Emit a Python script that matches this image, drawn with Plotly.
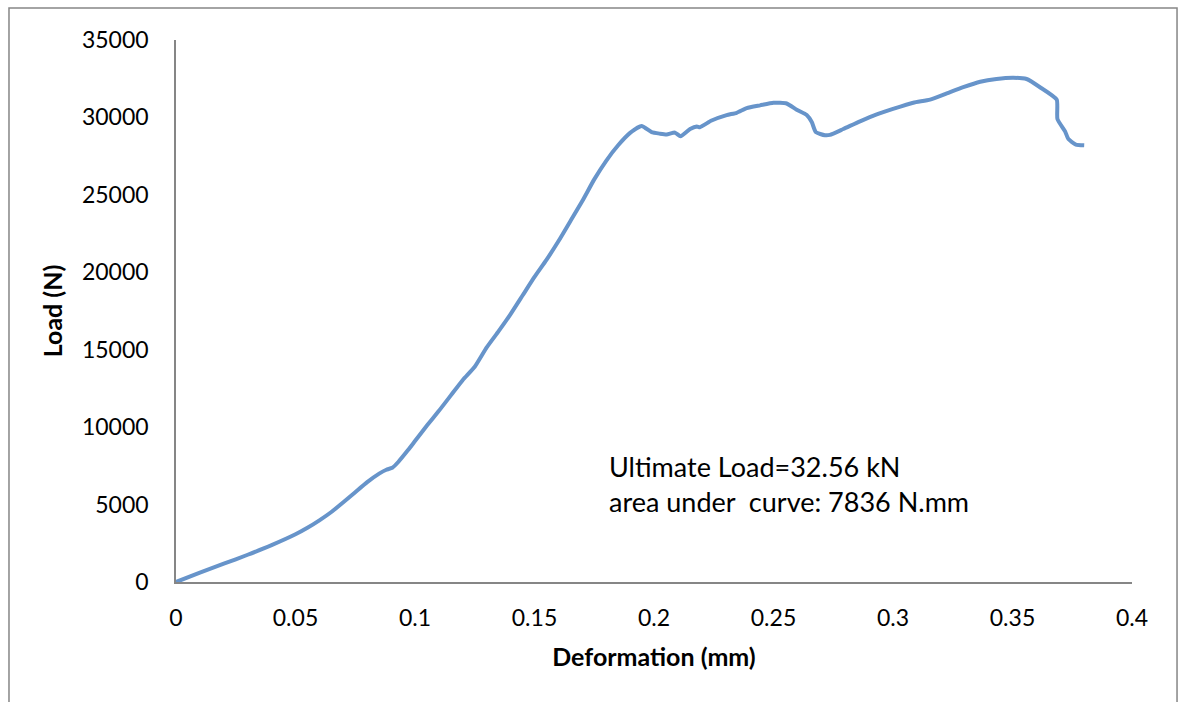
import plotly.graph_objects as go

# Load-deformation record of the specimen
deformation_mm = [
    0, 0.01, 0.02, 0.03, 0.04, 0.05, 0.055, 0.06, 0.065, 0.07, 0.075, 0.08,
    0.085, 0.088, 0.0905, 0.093, 0.097, 0.1, 0.105, 0.11, 0.115, 0.12, 0.125,
    0.13, 0.135, 0.14, 0.145, 0.15, 0.155, 0.16, 0.165, 0.17, 0.175, 0.18,
    0.185, 0.19, 0.1948, 0.199, 0.2025, 0.2053, 0.2088, 0.2111, 0.2151,
    0.2179, 0.2192, 0.2241, 0.2304, 0.2346, 0.2388, 0.2444, 0.25, 0.2555,
    0.2597, 0.2639, 0.266, 0.2677, 0.2715, 0.2736, 0.2792, 0.2862, 0.2932,
    0.3, 0.3085, 0.3155, 0.3225, 0.3294, 0.3365, 0.3433, 0.3503, 0.3559,
    0.3615, 0.3685, 0.3688, 0.372, 0.3734, 0.3765, 0.38,
]
load_n = [
    0, 600, 1180, 1760, 2380, 3080, 3500, 3980, 4520, 5150, 5800, 6450,
    7000, 7250, 7380, 7750, 8500, 9100, 10100, 11050, 12050, 13050, 13900,
    15150, 16200, 17300, 18500, 19700, 20800, 22000, 23300, 24600, 26000,
    27200, 28200, 29000, 29450, 29050, 28950, 28900, 29020, 28780, 29250,
    29420, 29370, 29800, 30150, 30300, 30600, 30780, 30950, 30900,
    30500, 30150, 29700, 29050, 28850, 28870, 29250, 29750, 30200,
    30550, 30950, 31150, 31550, 31950, 32300, 32480, 32560, 32480,
    31950, 31150, 29900, 29100, 28600, 28250, 28200,
]

x_ticks = [0, 0.05, 0.1, 0.15, 0.2, 0.25, 0.3, 0.35, 0.4]
x_tick_text = ["0", "0.05", "0.1", "0.15", "0.2", "0.25", "0.3", "0.35", "0.4"]
y_ticks = [0, 5000, 10000, 15000, 20000, 25000, 30000, 35000]

note_lines = ["Ultimate Load=32.56 kN", "area under  curve: 7836 N.mm"]

FONT = "Lato, Carlito, Calibri, sans-serif"
AXIS_GREY = "#868686"

fig = go.Figure()
fig.add_trace(go.Scatter(
    x=deformation_mm, y=load_n, mode="lines",
    line=dict(color="#6794CA", width=4, shape="spline", smoothing=0.5),
    showlegend=False, hoverinfo="x+y",
))

fig.update_layout(
    width=1184, height=702,
    margin=dict(l=176, r=52, t=40, b=120),
    paper_bgcolor="white", plot_bgcolor="white",
    font=dict(family=FONT, size=23, color="black"),
    xaxis=dict(
        range=[0, 0.4], tickvals=x_ticks, ticktext=x_tick_text,
        showgrid=False, zeroline=False, showline=True,
        linecolor=AXIS_GREY, linewidth=1.5, ticks="",
        ticklabelstandoff=15,
        title=dict(text="<b>Deformation (mm)</b>", font=dict(size=25), standoff=18),
    ),
    yaxis=dict(
        range=[0, 35000], tickvals=y_ticks,
        showgrid=False, zeroline=False, showline=True,
        linecolor=AXIS_GREY, linewidth=1.5, ticks="",
        ticklabelstandoff=21, tickformat="d",
        title=dict(text="<b>Load (N)</b>", font=dict(size=25), standoff=12),
    ),
)

fig.add_annotation(
    x=0.1804, y=6350, xref="x", yref="y",
    text="<br>".join(note_lines), showarrow=False,
    xanchor="left", yanchor="middle", align="left",
    font=dict(family=FONT, size=27, color="black"),
)

# Chart-area frame
fig.add_shape(
    type="rect", xref="paper", yref="paper",
    x0=-0.1747, x1=1.0471, y0=-0.4, y1=1.059,
    line=dict(color=AXIS_GREY, width=1.5), fillcolor="rgba(0,0,0,0)",
    layer="below",
)

fig.write_html("out.html")
